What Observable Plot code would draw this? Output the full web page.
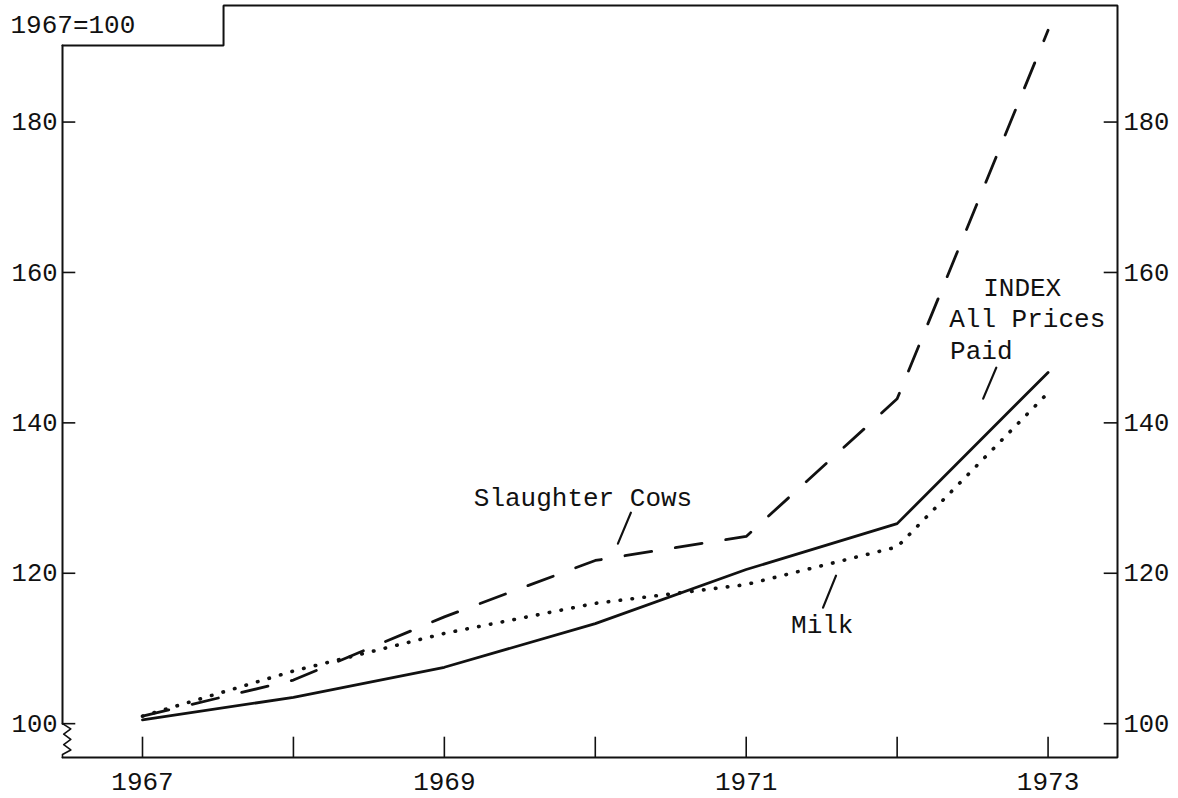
<!DOCTYPE html>
<html><head><meta charset="utf-8">
<script src="https://cdn.jsdelivr.net/npm/d3@7"></script>
<script src="https://cdn.jsdelivr.net/npm/@observablehq/plot@0.6"></script>
<style>
html,body{margin:0;padding:0;background:#fff;}
#chart svg{display:block;}
</style>
</head><body><div id="chart"></div>
<script>
// ---- data (1967=100) ----
const years = [1967, 1968, 1969, 1970, 1971, 1972, 1973];
const indexAllPricesPaid = [100.5, 103.5, 107.5, 113.3, 120.5, 126.6, 146.7];
const slaughterCows      = [101.0, 105.8, 114.2, 121.7, 124.9, 143.2, 192.2];
const milk               = [101.0, 107.0, 112.0, 116.0, 118.5, 123.5, 144.0];
const xTickLabels = [1967, 1969, 1971, 1973];
const yTickValues = [100, 120, 140, 160, 180];
const baseLabel = "1967=100";
const seriesLabels = ["Slaughter Cows", "INDEX", "All Prices", "Paid", "Milk"];

// ---- layout (scale domains, annotation anchors) ----
const X0 = 1966.47, X1 = 1973.46, Y0 = 95.5, Y1 = 195.5;
const notchX = 1967.537, notchY = 190.18;
const font = "'Liberation Mono', 'Courier New', monospace";

const toRows = vals => years.map((x, i) => ({x, y: vals[i]}));

const framePath = [
  {x: X0, y: notchY}, {x: notchX, y: notchY}, {x: notchX, y: Y1},
  {x: X1, y: Y1}, {x: X1, y: Y0}, {x: X0, y: Y0}
];
const leftAxisPath = [{x: X0, y: notchY}, {x: X0, y: 100}];
const zig = [0, 0.055, 0.008, 0.055, 0.008, 0.055, 0, 0];
const zigY = [100, 99.3, 98.6, 97.9, 97.2, 96.5, 95.9, Y0];
const zigzag = zig.map((d, i) => ({x: X0 + d, y: zigY[i]}));

const labelPos = [
  {t: seriesLabels[0], x: 1969.195, y: 130.0},
  {t: seriesLabels[1], x: 1972.570, y: 158.0},
  {t: seriesLabels[2], x: 1972.345, y: 153.9},
  {t: seriesLabels[3], x: 1972.351, y: 149.6},
  {t: seriesLabels[4], x: 1971.297, y: 113.2}
];
const leaders = [
  [{x: 1970.236, y: 128.06}, {x: 1970.150, y: 123.94}],
  [{x: 1972.657, y: 147.34}, {x: 1972.570, y: 143.22}],
  [{x: 1971.595, y: 119.68}, {x: 1971.509, y: 115.43}]
];

const xTickLen = 2.7, yTickLen = 0.088;

const chart = Plot.plot({
  width: 1178, height: 798,
  marginLeft: 62, marginRight: 61, marginTop: 5, marginBottom: 41,
  style: {fontFamily: font, fontSize: "25.5px", background: "#fff", color: "#111"},
  x: {domain: [X0, X1]},
  y: {domain: [Y0, Y1]},
  marks: [
    Plot.axisX({ticks: xTickLabels, tickSize: 0, tickPadding: 14, tickFormat: d => String(d), label: null, fontSize: 26}),
    Plot.axisY({anchor: "left", ticks: yTickValues, tickSize: 0, tickPadding: 5, label: null, fontSize: 25.5}),
    Plot.axisY({anchor: "right", ticks: yTickValues, tickSize: 0, tickPadding: 6, label: null, fontSize: 25.5}),
    // inward ticks
    Plot.ruleX(years, {x: d => d, y1: Y0, y2: Y0 + xTickLen, stroke: "#111", strokeWidth: 1.6}),
    Plot.ruleY(yTickValues, {y: d => d, x1: X0, x2: X0 + yTickLen, stroke: "#111", strokeWidth: 1.6}),
    Plot.ruleY(yTickValues, {y: d => d, x1: X1 - yTickLen, x2: X1, stroke: "#111", strokeWidth: 1.6}),
    // frame with notch
    Plot.line(framePath, {x: "x", y: "y", stroke: "#111", strokeWidth: 2, strokeLinejoin: "miter"}),
    Plot.line(leftAxisPath, {x: "x", y: "y", stroke: "#111", strokeWidth: 2}),
    Plot.line(zigzag, {x: "x", y: "y", stroke: "#111", strokeWidth: 1.6}),
    // series
    Plot.line(toRows(indexAllPricesPaid), {x: "x", y: "y", stroke: "#111", strokeWidth: 2.8}),
    Plot.line(toRows(slaughterCows), {x: "x", y: "y", stroke: "#111", strokeWidth: 2.8, strokeDasharray: "27,24", strokeLinecap: "round"}),
    Plot.line(toRows(milk), {x: "x", y: "y", stroke: "#111", strokeWidth: 3.6, strokeDasharray: "0.5,11.5", strokeLinecap: "round"}),
    // leaders
    ...leaders.map(seg => Plot.line(seg, {x: "x", y: "y", stroke: "#111", strokeWidth: 2.2})),
    // labels
    Plot.text(labelPos, {x: "x", y: "y", text: "t", textAnchor: "start", lineAnchor: "middle", fontSize: 26, fontFamily: font, fill: "#111"}),
    Plot.text([baseLabel], {frameAnchor: "top-left", dx: -52, dy: 19, textAnchor: "start", lineAnchor: "middle", fontSize: 26, fontFamily: font, fill: "#111"})
  ]
});
document.getElementById("chart").appendChild(chart);
</script>
</body></html>
